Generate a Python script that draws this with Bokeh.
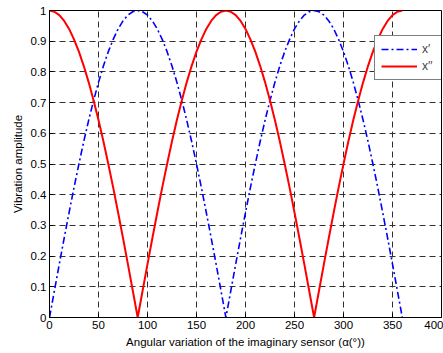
from bokeh.plotting import figure
from bokeh.models import Range1d, FixedTicker, Legend, LegendItem, CustomJSTickFormatter
from bokeh.embed import file_html
from bokeh.resources import INLINE

angle = list(range(0, 365, 5))
x_prime = [0, .087, .174, .259, .342, .423, .5, .574, .643, .707, .766, .819, .866, .906, .940, .966, .985, .996, 1,
           .996, .985, .966, .940, .906, .866, .819, .766, .707, .643, .574, .5, .423, .342, .259, .174, .087, 0,
           .087, .174, .259, .342, .423, .5, .574, .643, .707, .766, .819, .866, .906, .940, .966, .985, .996, 1,
           .996, .985, .966, .940, .906, .866, .819, .766, .707, .643, .574, .5, .423, .342, .259, .174, .087, 0]
x_dprime = [1, .996, .985, .966, .940, .906, .866, .819, .766, .707, .643, .574, .5, .423, .342, .259, .174, .087, 0,
            .087, .174, .259, .342, .423, .5, .574, .643, .707, .766, .819, .866, .906, .940, .966, .985, .996, 1,
            .996, .985, .966, .940, .906, .866, .819, .766, .707, .643, .574, .5, .423, .342, .259, .174, .087, 0,
            .087, .174, .259, .342, .423, .5, .574, .643, .707, .766, .819, .866, .906, .940, .966, .985, .996, 1]
x_ticks = [0, 50, 100, 150, 200, 250, 300, 350, 400]
y_ticks = [0, 0.1, 0.2, 0.3, 0.4, 0.5, 0.6, 0.7, 0.8, 0.9, 1]

p = figure(width=443, height=353, output_backend="svg", toolbar_location=None,
           x_range=Range1d(0, 400), y_range=Range1d(0, 1),
           min_border_left=49, min_border_right=2, min_border_top=10, min_border_bottom=36)
p.background_fill_color = "white"
p.border_fill_color = "white"
p.outline_line_color = "black"
p.outline_line_width = 1
p.outline_line_alpha = 1

l1 = p.line(angle, x_prime, line_color="#0000ff", line_width=1.6, line_dash="7 3 2 3")
l2 = p.line(angle, x_dprime, line_color="#ff0000", line_width=2)

for ax in (p.xaxis[0], p.yaxis[0]):
    ax.major_tick_in = 4
    ax.major_tick_out = 0
    ax.minor_tick_in = 0
    ax.minor_tick_out = 0
    ax.axis_line_color = "black"
    ax.major_tick_line_color = "black"
    ax.major_label_text_font = "Liberation Sans"
    ax.major_label_text_font_size = "11.5px"
    ax.major_label_text_color = "black"
    ax.axis_label_text_font = "Liberation Sans"
    ax.axis_label_text_font_size = "11.5px"
    ax.axis_label_text_font_style = "normal"
    ax.axis_label_text_color = "black"
    ax.major_label_standoff = 3
    ax.axis_label_standoff = 4

p.xaxis.ticker = FixedTicker(ticks=x_ticks)
p.yaxis.ticker = FixedTicker(ticks=y_ticks)
p.yaxis.formatter = CustomJSTickFormatter(code="return (Math.round(tick*10)/10).toString();")
p.xaxis.axis_label = "Angular variation of the imaginary sensor (\u03b1(\u00b0))"
p.yaxis.axis_label = "Vibration amplitude"

for g in (p.xgrid[0], p.ygrid[0]):
    g.grid_line_color = "#303030"
    g.grid_line_dash = "6 4"
    g.grid_line_width = 1
    g.grid_line_alpha = 1

legend = Legend(items=[LegendItem(label="x\u2032", renderers=[l1]),
                       LegendItem(label="x\u2032\u2032", renderers=[l2])],
                location=(325, 237))
legend.border_line_color = "black"
legend.border_line_width = 1
legend.background_fill_alpha = 1
legend.label_text_font = "Liberation Sans"
legend.label_text_font_size = "12px"
legend.glyph_width = 36
legend.glyph_height = 12
legend.padding = 6
legend.spacing = 3
legend.margin = 0
legend.label_standoff = 5
legend.label_height = 12
p.add_layout(legend, "center")

open("out.html", "w").write(file_html(p, INLINE))
